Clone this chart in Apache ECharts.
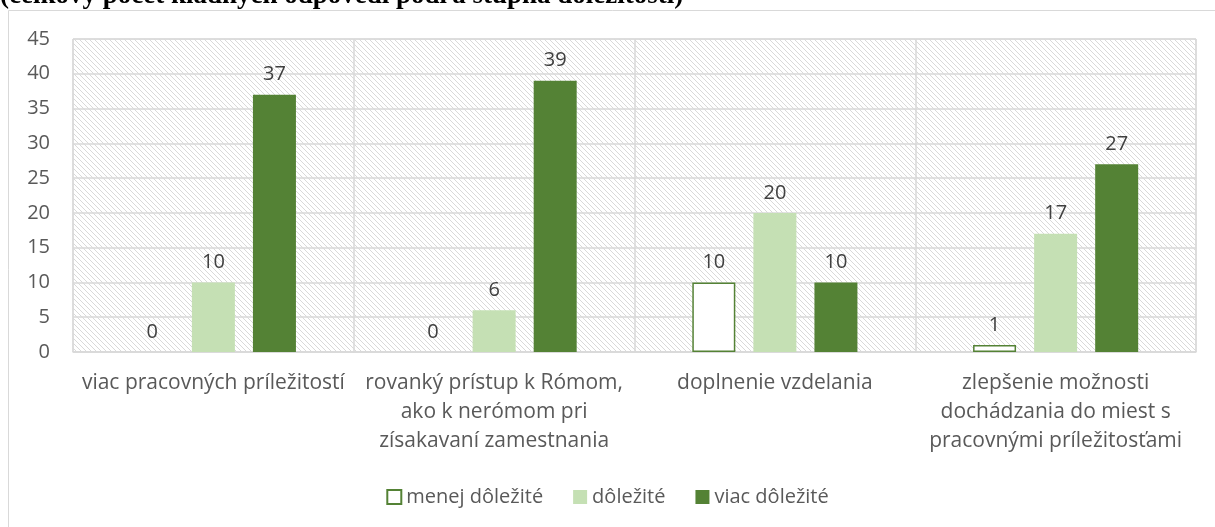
<!DOCTYPE html>
<html>
<head>
<meta charset="utf-8">
<script src="https://cdn.jsdelivr.net/npm/echarts@6/dist/echarts.min.js"></script>
<style>
  html, body { margin: 0; padding: 0; background: #fff; }
  #chart { width: 1215px; height: 527px; }
</style>
</head>
<body>
<div id="chart"></div>
<script>
// data
var categories = [
  'viac pracovných príležitostí',
  'rovanký prístup k Rómom,\nako k nerómom pri\nzísakavaní zamestnania',
  'doplnenie vzdelania',
  'zlepšenie možnosti\ndochádzania do miest s\npracovnými príležitosťami'
];
var menejDolezite = [0, 0, 10, 1];
var dolezite = [10, 6, 20, 17];
var viacDolezite = [37, 39, 10, 27];
var seriesNames = ['menej dôležité', 'dôležité', 'viac dôležité'];

// hatch pattern for the plot area
var pat = document.createElement('canvas');
pat.width = 5; pat.height = 5;
var ctx = pat.getContext('2d');
ctx.fillStyle = '#ffffff';
ctx.fillRect(0, 0, 5, 5);
ctx.strokeStyle = '#d9d9d9';
ctx.lineWidth = 1;
ctx.beginPath();
ctx.moveTo(-1, -1); ctx.lineTo(6, 6);
ctx.moveTo(-6, -1); ctx.lineTo(1, 6);
ctx.moveTo(4, -1); ctx.lineTo(11, 6);
ctx.stroke();

var font = '"Open Sans", Lato, sans-serif';
var myChart = echarts.init(document.getElementById('chart'));

var labelCfg = {
  show: true,
  position: 'top',
  distance: 10,
  color: '#404040',
  fontSize: 20,
  fontFamily: font
};

// zero-height outlined bars should not draw a line on the axis
var menejData = menejDolezite.map(function (v) {
  return v === 0 ? { value: v, itemStyle: { borderWidth: 0 } } : v;
});

myChart.setOption({
  animation: false,
  graphic: [
    {
      type: 'rect',
      shape: { x: 8.5, y: 10.5, width: 1220, height: 530 },
      style: { fill: 'none', stroke: '#d9d9d9', lineWidth: 1 },
      z: -10
    },
    {
      type: 'text',
      x: 0,
      y: -4,
      style: {
        text: '(celkový počet kladných odpovedí podľa stupňa dôležitosti)',
        font: 'bold 27px "Liberation Serif", "DejaVu Serif", serif',
        fill: '#000',
        verticalAlign: 'middle'
      }
    }
  ],
  grid: {
    left: 73,
    right: 19,
    top: 39,
    bottom: 175,
    show: true,
    backgroundColor: { image: pat, repeat: 'repeat' },
    borderColor: '#d9d9d9',
    borderWidth: 1
  },
  legend: {
    data: seriesNames,
    top: 482,
    left: 'center',
    itemWidth: 14,
    itemHeight: 14,
    itemGap: 30,
    icon: 'rect',
    textStyle: { color: '#595959', fontSize: 20, fontFamily: font }
  },
  xAxis: {
    type: 'category',
    data: categories,
    axisLine: { lineStyle: { color: '#d9d9d9', width: 1.5 } },
    axisTick: { show: false },
    splitLine: { show: true, lineStyle: { color: '#d9d9d9', width: 1.5 } },
    axisLabel: {
      color: '#595959',
      fontSize: 21,
      fontFamily: font,
      lineHeight: 29,
      margin: 17,
      interval: 0
    }
  },
  yAxis: {
    type: 'value',
    min: 0,
    max: 45,
    interval: 5,
    axisLine: { show: false },
    axisTick: { show: false },
    splitLine: { lineStyle: { color: '#d9d9d9', width: 1.5 } },
    axisLabel: { color: '#595959', fontSize: 20, fontFamily: font, margin: 23 }
  },
  series: [
    {
      name: seriesNames[0],
      type: 'bar',
      data: menejData,
      barWidth: 43,
      barGap: '42%',
      itemStyle: { color: '#ffffff', borderColor: '#548235', borderWidth: 1.5 },
      label: labelCfg
    },
    {
      name: seriesNames[1],
      type: 'bar',
      data: dolezite,
      barWidth: 43,
      barGap: '42%',
      itemStyle: { color: '#C5E0B4' },
      label: labelCfg
    },
    {
      name: seriesNames[2],
      type: 'bar',
      data: viacDolezite,
      barWidth: 43,
      barGap: '42%',
      itemStyle: { color: '#548235' },
      label: labelCfg
    }
  ]
});
</script>
</body>
</html>
